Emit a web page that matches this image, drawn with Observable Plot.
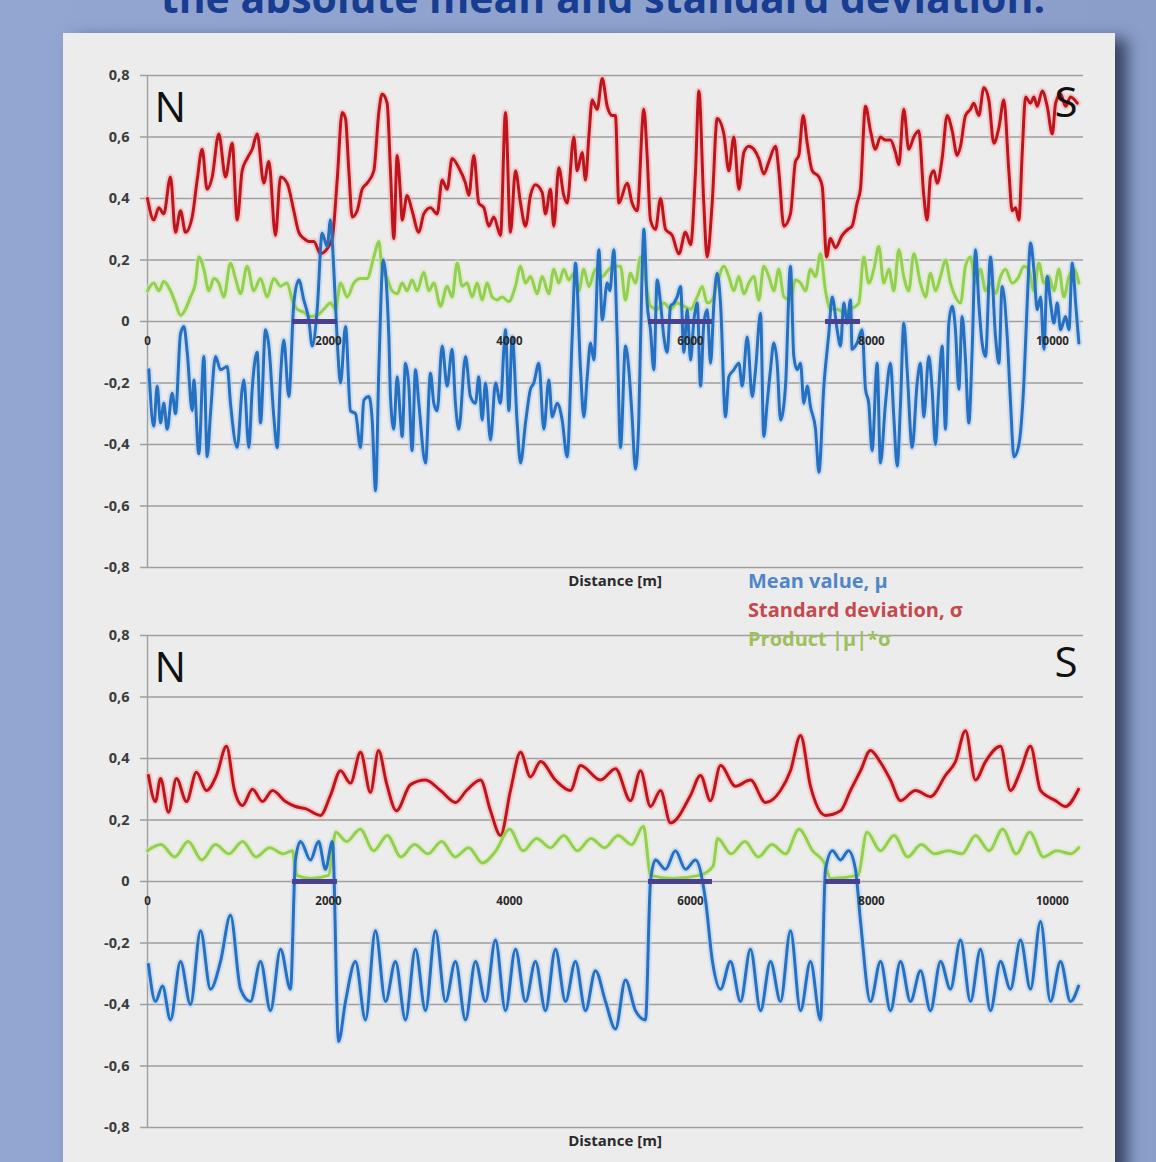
<!DOCTYPE html>
<html><head><meta charset="utf-8">
<script src="https://cdn.jsdelivr.net/npm/d3@7"></script>
<script src="https://cdn.jsdelivr.net/npm/@observablehq/plot@0.6"></script>
<style>
html,body{margin:0;padding:0;}
body{width:1156px;height:1162px;overflow:hidden;position:relative;background:linear-gradient(90deg,#92a6d1,#8a9ec9);font-family:"Open Sans",sans-serif;}
#title{position:absolute;left:25px;width:1156px;top:-23px;text-align:center;font-weight:bold;font-size:41px;line-height:41px;color:#183d90;white-space:nowrap;}
#panel{position:absolute;left:63px;top:33px;width:1052px;height:1140px;background:#ececec;box-shadow:12px 6px 14px rgba(35,45,75,0.8);}
.chart{position:absolute;left:0;}
#c1{top:0;} #c2{top:560px;}
#legend{position:absolute;left:685px;top:533px;font-size:20px;line-height:29px;font-weight:700;}
#legend div{white-space:nowrap;}
</style></head>
<body>
<div id="title">the absolute mean and standard deviation.</div>
<div id="panel">
  <div id="c1" class="chart"></div>
  <div id="c2" class="chart"></div>
  <div id="legend"></div>
</div>
<script>
// ---------- data ----------
const yTicks = [0.8, 0.6, 0.4, 0.2, 0, -0.2, -0.4, -0.6, -0.8];
const xTicks = [0, 2000, 4000, 6000, 8000, 10000];
const legendLabels = ["Mean value, \u03bc", "Standard deviation, \u03c3", "Product |\u03bc|*\u03c3"];
const segments = [[1602, 2099], [5536, 6243], [7492, 7879]];

// Top chart: [distance m, value]
const topSd = [[0,0.40],[70,0.33],[125,0.37],[180,0.35],[254,0.47],[309,0.29],[365,0.36],[420,0.29],[494,0.34],[549,0.46],[604,0.56],[659,0.43],[715,0.47],[788,0.61],[862,0.47],[936,0.58],[991,0.33],[1046,0.49],[1101,0.53],[1157,0.56],[1212,0.61],[1285,0.45],[1341,0.52],[1414,0.28],[1470,0.47],[1543,0.45],[1617,0.36],[1672,0.29],[1727,0.27],[1783,0.26],[1838,0.26],[1912,0.22],[1967,0.23],[2041,0.27],[2096,0.46],[2151,0.68],[2188,0.66],[2225,0.49],[2262,0.34],[2317,0.36],[2372,0.43],[2427,0.45],[2501,0.49],[2556,0.68],[2593,0.74],[2648,0.71],[2685,0.49],[2722,0.27],[2759,0.54],[2796,0.41],[2814,0.33],[2869,0.41],[2924,0.36],[2998,0.29],[3053,0.35],[3127,0.37],[3201,0.35],[3256,0.46],[3311,0.43],[3366,0.53],[3440,0.50],[3514,0.45],[3551,0.41],[3606,0.54],[3661,0.385],[3717,0.37],[3772,0.31],[3827,0.34],[3901,0.28],[3956,0.68],[4011,0.29],[4066,0.49],[4122,0.385],[4177,0.31],[4232,0.41],[4287,0.445],[4361,0.42],[4398,0.35],[4453,0.43],[4490,0.31],[4545,0.50],[4600,0.41],[4637,0.385],[4711,0.60],[4748,0.49],[4803,0.55],[4840,0.46],[4877,0.60],[4914,0.72],[4969,0.69],[5025,0.79],[5080,0.70],[5135,0.67],[5171,0.67],[5208,0.385],[5300,0.45],[5355,0.385],[5411,0.36],[5485,0.69],[5521,0.54],[5558,0.33],[5614,0.30],[5669,0.40],[5724,0.30],[5798,0.28],[5872,0.22],[5945,0.29],[6001,0.25],[6056,0.49],[6093,0.75],[6147,0.385],[6184,0.21],[6240,0.385],[6295,0.66],[6369,0.61],[6424,0.49],[6479,0.60],[6535,0.43],[6590,0.55],[6645,0.57],[6700,0.56],[6755,0.53],[6810,0.48],[6866,0.52],[6940,0.57],[6976,0.49],[7032,0.31],[7105,0.35],[7160,0.52],[7197,0.54],[7245,0.67],[7290,0.58],[7345,0.49],[7419,0.47],[7456,0.44],[7504,0.21],[7547,0.27],[7602,0.24],[7676,0.28],[7740,0.30],[7786,0.31],[7841,0.385],[7878,0.43],[7934,0.70],[7989,0.62],[8044,0.56],[8099,0.60],[8155,0.59],[8210,0.59],[8265,0.55],[8302,0.51],[8357,0.69],[8412,0.56],[8468,0.60],[8523,0.62],[8578,0.41],[8615,0.33],[8652,0.47],[8689,0.49],[8726,0.45],[8781,0.53],[8836,0.67],[8892,0.62],[8947,0.54],[8984,0.57],[9039,0.67],[9094,0.69],[9131,0.71],[9186,0.67],[9242,0.76],[9297,0.72],[9352,0.58],[9408,0.63],[9463,0.72],[9518,0.49],[9555,0.36],[9592,0.37],[9629,0.33],[9666,0.55],[9703,0.73],[9758,0.71],[9795,0.73],[9832,0.70],[9887,0.75],[9942,0.70],[9998,0.61],[10035,0.71],[10090,0.74],[10145,0.70],[10200,0.73],[10274,0.71]];

const topMean = [[15,-0.157],[70,-0.34],[107,-0.21],[144,-0.33],[180,-0.266],[217,-0.35],[273,-0.233],[309,-0.30],[365,-0.04],[402,-0.016],[439,-0.10],[494,-0.29],[512,-0.19],[567,-0.43],[623,-0.114],[659,-0.44],[696,-0.30],[752,-0.114],[807,-0.157],[881,-0.146],[917,-0.266],[991,-0.41],[1046,-0.22],[1065,-0.19],[1120,-0.41],[1157,-0.22],[1212,-0.10],[1249,-0.33],[1304,-0.027],[1341,-0.08],[1396,-0.31],[1433,-0.41],[1470,-0.18],[1506,-0.06],[1562,-0.244],[1617,0.06],[1672,0.135],[1727,0.07],[1783,0.005],[1820,-0.08],[1875,0.038],[1930,0.287],[1986,0.244],[2022,0.33],[2059,0.168],[2096,-0.06],[2133,-0.20],[2188,-0.016],[2243,-0.29],[2299,-0.30],[2354,-0.41],[2391,-0.256],[2446,-0.244],[2483,-0.32],[2520,-0.55],[2556,-0.16],[2605,0.20],[2667,-0.05],[2685,-0.244],[2722,-0.35],[2759,-0.18],[2796,-0.32],[2814,-0.374],[2851,-0.136],[2888,-0.21],[2924,-0.42],[2961,-0.157],[2998,-0.266],[3072,-0.46],[3127,-0.168],[3164,-0.266],[3201,-0.29],[3256,-0.08],[3311,-0.21],[3366,-0.09],[3403,-0.266],[3440,-0.35],[3514,-0.114],[3569,-0.244],[3624,-0.266],[3661,-0.18],[3698,-0.32],[3735,-0.20],[3790,-0.385],[3846,-0.20],[3901,-0.266],[3938,-0.09],[3956,-0.027],[3993,-0.29],[4030,-0.05],[4085,-0.33],[4122,-0.46],[4177,-0.33],[4232,-0.22],[4269,-0.20],[4324,-0.136],[4380,-0.35],[4435,-0.19],[4472,-0.31],[4527,-0.266],[4582,-0.32],[4637,-0.44],[4693,-0.05],[4730,0.19],[4785,-0.157],[4822,-0.31],[4859,-0.18],[4896,-0.07],[4932,-0.125],[4988,0.233],[5025,0.005],[5080,0.125],[5110,0.10],[5153,0.233],[5190,-0.05],[5227,-0.41],[5282,-0.08],[5319,-0.157],[5355,-0.31],[5392,-0.48],[5429,-0.32],[5466,0.168],[5485,0.30],[5521,0.06],[5558,-0.027],[5595,-0.157],[5632,0.135],[5669,0.06],[5706,-0.05],[5743,-0.10],[5780,0.05],[5816,0.06],[5853,0.08],[5890,0.114],[5927,-0.10],[5964,0.038],[6001,-0.125],[6038,0.005],[6075,0.06],[6111,-0.21],[6148,-0.005],[6185,0.038],[6222,-0.136],[6259,0.06],[6295,0.157],[6332,0.06],[6387,-0.31],[6424,-0.18],[6479,-0.157],[6535,-0.136],[6572,-0.21],[6627,-0.05],[6682,-0.244],[6719,-0.157],[6774,0.027],[6810,-0.374],[6847,-0.266],[6884,-0.157],[6921,-0.07],[6958,-0.136],[6995,-0.32],[7050,-0.21],[7105,0.18],[7142,-0.114],[7179,-0.157],[7216,-0.136],[7253,-0.266],[7290,-0.21],[7326,-0.277],[7382,-0.35],[7419,-0.49],[7474,-0.21],[7529,-0.038],[7566,0.08],[7621,-0.027],[7658,-0.08],[7694,0.06],[7731,-0.005],[7768,0.07],[7786,-0.09],[7841,-0.07],[7897,-0.027],[7934,-0.22],[7970,-0.266],[8007,-0.42],[8063,-0.136],[8099,-0.46],[8155,-0.266],[8210,-0.136],[8247,-0.31],[8284,-0.47],[8321,-0.266],[8357,-0.005],[8394,-0.157],[8450,-0.41],[8505,-0.20],[8541,-0.136],[8578,-0.31],[8634,-0.114],[8670,-0.22],[8707,-0.40],[8744,-0.22],[8781,-0.08],[8818,-0.35],[8855,-0.005],[8892,0.05],[8928,-0.027],[8965,-0.22],[9002,0.016],[9039,-0.125],[9076,-0.33],[9113,-0.09],[9150,0.233],[9186,0.06],[9223,-0.07],[9260,-0.114],[9315,0.21],[9371,-0.05],[9408,-0.136],[9444,0.114],[9500,-0.05],[9537,-0.266],[9574,-0.44],[9629,-0.40],[9684,-0.20],[9721,0.06],[9758,0.255],[9795,0.168],[9832,0.038],[9869,0.08],[9905,-0.09],[9942,0.146],[9979,0.06],[10016,-0.005],[10053,0.06],[10090,-0.027],[10145,0.016],[10182,-0.027],[10219,0.19],[10256,0.06],[10292,-0.07]];

const topProd = [[0,0.10],[70,0.125],[125,0.10],[180,0.13],[254,0.10],[309,0.06],[365,0.02],[420,0.04],[475,0.08],[530,0.125],[567,0.21],[623,0.17],[678,0.10],[733,0.14],[788,0.125],[844,0.08],[917,0.19],[972,0.14],[1028,0.09],[1101,0.18],[1175,0.10],[1249,0.14],[1322,0.08],[1396,0.14],[1470,0.115],[1543,0.125],[1599,0.07],[1654,0.04],[1727,0.03],[1801,0.016],[1875,0.02],[1949,0.04],[2022,0.06],[2078,0.04],[2133,0.125],[2207,0.08],[2280,0.125],[2354,0.14],[2427,0.14],[2501,0.21],[2556,0.26],[2593,0.17],[2648,0.14],[2703,0.10],[2759,0.09],[2814,0.125],[2869,0.10],[2924,0.135],[2980,0.10],[3053,0.16],[3109,0.10],[3164,0.125],[3238,0.05],[3311,0.115],[3366,0.08],[3422,0.19],[3477,0.115],[3532,0.125],[3587,0.08],[3643,0.125],[3698,0.07],[3753,0.125],[3808,0.08],[3864,0.07],[3919,0.08],[3993,0.065],[4066,0.115],[4122,0.18],[4177,0.125],[4232,0.146],[4306,0.09],[4361,0.146],[4435,0.09],[4490,0.17],[4545,0.125],[4600,0.17],[4656,0.135],[4711,0.157],[4766,0.10],[4821,0.17],[4877,0.114],[4950,0.17],[5025,0.146],[5098,0.17],[5172,0.18],[5227,0.18],[5282,0.07],[5337,0.157],[5392,0.125],[5448,0.21],[5485,0.17],[5521,0.10],[5558,0.05],[5632,0.04],[5706,0.06],[5780,0.04],[5853,0.06],[5927,0.05],[6001,0.04],[6075,0.08],[6130,0.114],[6184,0.06],[6240,0.07],[6295,0.125],[6369,0.18],[6424,0.146],[6479,0.10],[6535,0.146],[6590,0.09],[6645,0.125],[6700,0.146],[6755,0.07],[6810,0.18],[6866,0.146],[6921,0.10],[6976,0.17],[7032,0.08],[7105,0.07],[7160,0.135],[7216,0.125],[7271,0.10],[7326,0.17],[7382,0.146],[7437,0.22],[7492,0.10],[7547,0.04],[7621,0.04],[7694,0.03],[7768,0.04],[7860,0.06],[7915,0.21],[7970,0.125],[8026,0.17],[8081,0.244],[8136,0.125],[8192,0.17],[8247,0.10],[8302,0.233],[8357,0.146],[8412,0.10],[8468,0.22],[8541,0.125],[8597,0.08],[8652,0.157],[8707,0.10],[8762,0.146],[8818,0.20],[8873,0.125],[8928,0.08],[8984,0.06],[9039,0.18],[9094,0.21],[9150,0.125],[9205,0.17],[9260,0.10],[9315,0.125],[9371,0.09],[9426,0.146],[9481,0.17],[9555,0.125],[9629,0.146],[9684,0.18],[9739,0.17],[9795,0.10],[9850,0.19],[9905,0.125],[9961,0.146],[10016,0.10],[10071,0.17],[10126,0.08],[10182,0.146],[10237,0.17],[10292,0.125]];

// Bottom chart
const botSd = [[11,0.345],[88,0.26],[144,0.335],[232,0.225],[320,0.335],[431,0.26],[541,0.355],[652,0.296],[762,0.345],[873,0.44],[961,0.296],[1050,0.247],[1160,0.30],[1271,0.26],[1381,0.296],[1525,0.26],[1635,0.244],[1746,0.237],[1912,0.215],[2022,0.28],[2133,0.36],[2243,0.32],[2354,0.42],[2464,0.29],[2553,0.426],[2641,0.32],[2751,0.23],[2906,0.315],[3072,0.33],[3238,0.296],[3403,0.257],[3525,0.296],[3680,0.33],[3790,0.23],[3901,0.15],[4011,0.296],[4122,0.42],[4232,0.34],[4343,0.39],[4508,0.33],[4674,0.296],[4785,0.377],[5006,0.33],[5171,0.367],[5337,0.263],[5448,0.36],[5558,0.244],[5669,0.296],[5779,0.19],[6000,0.28],[6111,0.345],[6221,0.263],[6332,0.377],[6497,0.31],[6663,0.33],[6829,0.257],[6995,0.296],[7105,0.36],[7216,0.475],[7326,0.31],[7492,0.215],[7658,0.23],[7768,0.296],[7879,0.36],[7989,0.426],[8100,0.387],[8210,0.33],[8321,0.263],[8486,0.296],[8652,0.276],[8818,0.345],[8928,0.39],[9039,0.49],[9149,0.33],[9260,0.39],[9426,0.44],[9536,0.296],[9647,0.36],[9757,0.44],[9868,0.296],[10033,0.263],[10144,0.244],[10288,0.30]];

const botMean = [[11,-0.27],[88,-0.39],[166,-0.34],[254,-0.45],[365,-0.26],[475,-0.40],[586,-0.16],[696,-0.35],[807,-0.26],[917,-0.11],[1028,-0.35],[1138,-0.39],[1249,-0.26],[1359,-0.42],[1470,-0.22],[1580,-0.35],[1635,0.07],[1691,0.13],[1801,0.07],[1890,0.13],[1967,0.04],[2044,0.13],[2111,-0.52],[2188,-0.39],[2298,-0.26],[2409,-0.45],[2519,-0.16],[2630,-0.39],[2740,-0.26],[2851,-0.45],[2961,-0.22],[3072,-0.42],[3182,-0.16],[3293,-0.39],[3403,-0.26],[3514,-0.45],[3624,-0.26],[3735,-0.39],[3845,-0.19],[3956,-0.42],[4066,-0.22],[4177,-0.39],[4287,-0.26],[4398,-0.42],[4508,-0.22],[4619,-0.39],[4729,-0.26],[4840,-0.42],[4950,-0.29],[5061,-0.39],[5171,-0.48],[5282,-0.32],[5392,-0.42],[5503,-0.45],[5558,0.00],[5613,0.07],[5724,0.04],[5834,0.10],[5945,0.04],[6055,0.07],[6166,-0.06],[6243,-0.26],[6332,-0.35],[6442,-0.26],[6553,-0.39],[6663,-0.22],[6774,-0.42],[6884,-0.26],[6995,-0.39],[7105,-0.16],[7216,-0.42],[7326,-0.26],[7437,-0.45],[7492,0.04],[7569,0.10],[7658,0.07],[7746,0.10],[7823,0.04],[7879,-0.13],[7989,-0.39],[8100,-0.26],[8210,-0.42],[8321,-0.26],[8431,-0.39],[8542,-0.29],[8652,-0.42],[8763,-0.26],[8873,-0.35],[8984,-0.19],[9094,-0.39],[9205,-0.22],[9315,-0.42],[9426,-0.26],[9536,-0.35],[9647,-0.19],[9757,-0.35],[9868,-0.13],[9978,-0.39],[10089,-0.26],[10199,-0.39],[10288,-0.34]];

const botProd = [[0,0.10],[150,0.12],[300,0.08],[450,0.13],[600,0.07],[750,0.12],[900,0.09],[1050,0.13],[1200,0.08],[1350,0.11],[1500,0.09],[1600,0.10],[1650,0.02],[1800,0.01],[2000,0.02],[2080,0.16],[2200,0.13],[2350,0.17],[2500,0.10],[2650,0.15],[2800,0.08],[2950,0.12],[3100,0.09],[3250,0.13],[3400,0.08],[3550,0.11],[3700,0.06],[3850,0.10],[4000,0.17],[4150,0.10],[4300,0.14],[4450,0.11],[4600,0.15],[4750,0.10],[4900,0.14],[5050,0.11],[5200,0.15],[5350,0.12],[5480,0.18],[5560,0.02],[5800,0.01],[6100,0.02],[6250,0.05],[6300,0.14],[6450,0.09],[6600,0.13],[6750,0.08],[6900,0.12],[7050,0.09],[7200,0.17],[7350,0.10],[7480,0.06],[7550,0.01],[7850,0.02],[7950,0.16],[8100,0.10],[8250,0.15],[8400,0.08],[8550,0.12],[8700,0.09],[8850,0.10],[9000,0.09],[9150,0.15],[9300,0.10],[9450,0.17],[9600,0.09],[9750,0.16],[9900,0.08],[10050,0.10],[10200,0.09],[10290,0.11]];

// ---------- styling ----------
const C = {
  blue: "#2570c0", blueHalo: "#b4cfee",
  red: "#c0141c", redHalo: "#f1aeae",
  green: "#93cf50", greenHalo: "#d6ecb4",
  grid: "#9e9e9e", seg: "#4b3f8f"
};
const fmtY = v => v === 0 ? "0" : v.toFixed(1).replace(".", ",");
const X = d => d[0], Y = d => d[1];

function makeChart(mean, sd, prod) {
  return Plot.plot({
    width: 1052, height: 560,
    marginLeft: 77, marginRight: 32, marginTop: 42, marginBottom: 26,
    style: {background: "transparent", fontFamily: "Open Sans, sans-serif", overflow: "visible"},
    x: {domain: [-77.3, 10343], axis: null},
    y: {domain: [-0.8, 0.8], axis: null},
    marks: [
      Plot.ruleY(yTicks, {stroke: C.grid, strokeWidth: 1.4}),
      Plot.ruleX([0], {y1: -0.8, y2: 0.8, stroke: C.grid, strokeWidth: 1.4}),
      Plot.line(sd, {x: X, y: Y, stroke: C.redHalo, strokeWidth: 7, strokeOpacity: 0.55, curve: "monotone-x"}),
      Plot.line(prod, {x: X, y: Y, stroke: C.greenHalo, strokeWidth: 7, strokeOpacity: 0.55, curve: "monotone-x"}),
      Plot.line(mean, {x: X, y: Y, stroke: C.blueHalo, strokeWidth: 7, strokeOpacity: 0.55, curve: "monotone-x"}),
      Plot.line(sd, {x: X, y: Y, stroke: C.red, strokeWidth: 3, curve: "monotone-x"}),
      Plot.line(prod, {x: X, y: Y, stroke: C.green, strokeWidth: 3, curve: "monotone-x"}),
      Plot.line(mean, {x: X, y: Y, stroke: C.blue, strokeWidth: 3, curve: "monotone-x"}),
      Plot.ruleY(segments, {x1: d => d[0], x2: d => d[1], y: () => 0, stroke: C.seg, strokeWidth: 5}),
      Plot.text(xTicks, {x: d => d, y: () => 0, dy: 20, text: d => String(d), fontSize: 11.5, fontWeight: "bold", fill: "#2a2a2a"}),
      Plot.axisY(yTicks, {tickSize: 0, tickPadding: 11, tickFormat: fmtY, fontSize: 14.5, fontWeight: "bold", fill: "#3c3c3c"}),
      Plot.text(["N"], {frameAnchor: "top-left", dx: 14, dy: 17, textAnchor: "start", fontSize: 42, fill: "#111"}),
      Plot.text(["S"], {frameAnchor: "top-right", dx: -6, dy: 12, textAnchor: "end", fontSize: 42, fill: "#111"}),
      Plot.text(["Distance [m]"], {frameAnchor: "bottom", dx: 3, dy: 18, fontSize: 15, fontWeight: "bold", fill: "#2a2a2a"})
    ]
  });
}

document.getElementById("c1").appendChild(makeChart(topMean, topSd, topProd));
document.getElementById("c2").appendChild(makeChart(botMean, botSd, botProd));

const legColors = ["#4f86c8", "#c4494c", "#9cc05c"];
const leg = document.getElementById("legend");
legendLabels.forEach((t, i) => {
  const el = document.createElement("div");
  el.style.color = legColors[i];
  el.textContent = t;
  leg.appendChild(el);
});
</script>
</body></html>
